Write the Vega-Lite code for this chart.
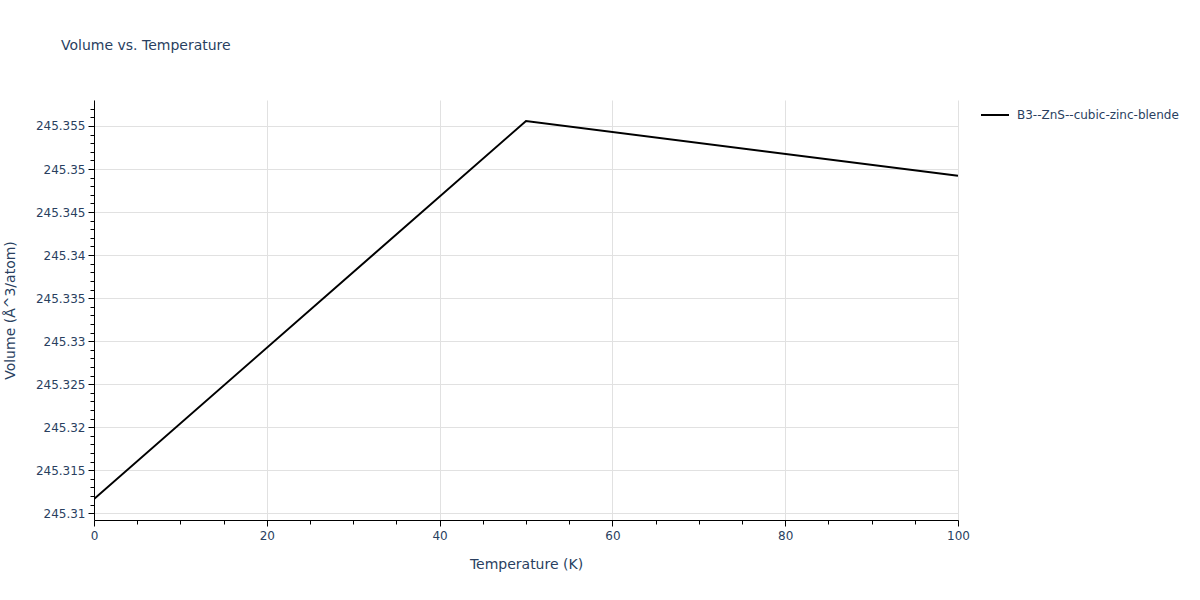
{
  "$schema": "https://vega.github.io/schema/vega-lite/v6.json",
  "width": 864,
  "height": 420,
  "autosize": {"type": "none"},
  "padding": {"left": 94, "top": 100, "right": 242, "bottom": 80},
  "background": "white",
  "title": {"text": "Volume vs. Temperature", "anchor": "start", "frame": "group", "dx": -33, "offset": 47, "fontSize": 14, "font": "DejaVu Sans", "fontWeight": "normal", "color": "#2a3f5f"},
  "data": {"values": [
    {"T": 0, "V": 245.31166, "s": "B3--ZnS--cubic-zinc-blende"},
    {"T": 50, "V": 245.35558, "s": "B3--ZnS--cubic-zinc-blende"},
    {"T": 100, "V": 245.34922, "s": "B3--ZnS--cubic-zinc-blende"}
  ]},
  "config": {
    "view": {"stroke": null},
    "axis": {"labelFont": "DejaVu Sans", "labelFontSize": 12, "labelColor": "#2a3f5f", "titleFont": "DejaVu Sans", "titleFontSize": 14, "titleFontWeight": "normal", "titleColor": "#2a3f5f", "domainColor": "black", "domainWidth": 1, "tickColor": "black", "gridColor": "#e1e1e1", "gridWidth": 1, "labelFlush": false}
  },
  "layer": [
    {
      "mark": {"type": "line", "strokeWidth": 2, "clip": true},
      "encoding": {
        "x": {"field": "T", "type": "quantitative", "scale": {"domain": [0, 100], "nice": false, "zero": false},
          "axis": {"orient": "bottom", "values": [0, 20, 40, 60, 80, 100], "grid": true, "tickSize": 6, "labelPadding": 4, "title": "Temperature (K)", "titlePadding": 16}},
        "y": {"field": "V", "type": "quantitative", "scale": {"domain": [245.30922, 245.35802], "nice": false, "zero": false},
          "axis": {"orient": "left", "values": [245.31, 245.315, 245.32, 245.325, 245.33, 245.335, 245.34, 245.345, 245.35, 245.355], "format": "~g", "grid": true, "tickSize": 6, "labelPadding": 3, "title": "Volume (Å^3/atom)", "titlePadding": 18}},
        "color": {"field": "s", "type": "nominal", "scale": {"range": ["black"]},
          "legend": {"orient": "none", "legendX": 886, "legendY": 0, "title": null, "padding": 0, "symbolType": "stroke", "symbolSize": 784, "symbolStrokeWidth": 2, "labelOffset": 7, "labelLimit": 0, "labelFont": "DejaVu Sans", "labelFontSize": 12, "labelColor": "#2a3f5f"}}
      }
    },
    {
      "mark": {"type": "line", "opacity": 0},
      "encoding": {
        "x": {"field": "T", "type": "quantitative",
          "axis": {"orient": "bottom", "values": [5, 10, 15, 25, 30, 35, 45, 50, 55, 65, 70, 75, 85, 90, 95], "labels": false, "grid": false, "domain": false, "tickSize": 4, "title": null}},
        "y": {"field": "V", "type": "quantitative",
          "axis": {"orient": "left", "values": [245.311, 245.312, 245.313, 245.314, 245.316, 245.317, 245.318, 245.319, 245.321, 245.322, 245.323, 245.324, 245.326, 245.327, 245.328, 245.329, 245.331, 245.332, 245.333, 245.334, 245.336, 245.337, 245.338, 245.339, 245.341, 245.342, 245.343, 245.344, 245.346, 245.347, 245.348, 245.349, 245.351, 245.352, 245.353, 245.354, 245.356, 245.357], "labels": false, "grid": false, "domain": false, "tickSize": 4, "title": null}}
      }
    }
  ],
  "resolve": {"axis": {"x": "independent", "y": "independent"}}
}
